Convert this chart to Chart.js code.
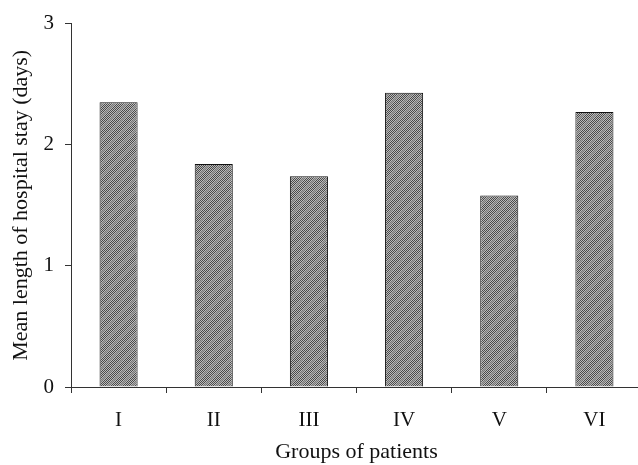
<!DOCTYPE html>
<html>
<head>
<meta charset="utf-8">
<script src="https://cdn.jsdelivr.net/npm/chart.js@4/dist/chart.umd.min.js"></script>
<style>
  html, body { margin: 0; padding: 0; background: #fff; overflow: hidden; }
  #wrap { width: 645px; height: 465px; }
</style>
</head>
<body>
<div id="wrap"><canvas id="c" width="645" height="465"></canvas></div>
<script>
const groups = ['I', 'II', 'III', 'IV', 'V', 'VI'];
const meanStay = [2.35, 1.84, 1.74, 2.43, 1.58, 2.27];
const yTicks = [0, 1, 2, 3];

// gray dotted fill with faint diagonal streaks, like the scanned print
function hatch() {
  const p = document.createElement('canvas');
  p.width = 12; p.height = 12;
  const g = p.getContext('2d');
  for (let y = 0; y < 12; y++) {
    for (let x = 0; x < 12; x++) {
      const d = (x + y) % 12;
      const stripe = d < 3;
      const dark = (x + y) % 2 === 0;
      if (stripe) g.fillStyle = dark ? '#767676' : '#a4a4a4';
      else g.fillStyle = dark ? '#4a4a4a' : '#bcbcbc';
      g.fillRect(x, y, 1, 1);
    }
  }
  return g.createPattern(p, 'repeat');
}

const serif = 'Liberation Serif, Times New Roman, serif';

new Chart(document.getElementById('c'), {
  type: 'bar',
  data: {
    labels: groups,
    datasets: [{
      data: meanStay,
      backgroundColor: hatch(),
      borderColor: '#111',
      borderWidth: 1,
      categoryPercentage: 1,
      barPercentage: 0.4
    }]
  },
  options: {
    responsive: false,
    animation: false,
    layout: { padding: { top: 19, right: 3, bottom: 0, left: 0 } },
    plugins: { legend: { display: false }, tooltip: { enabled: false } },
    scales: {
      x: {
        afterFit: s => { s.height = 78; },
        grid: { drawOnChartArea: false, tickLength: 6, color: '#333' },
        border: { color: '#333', width: 1 },
        ticks: { color: '#111', padding: 15, font: { family: serif, size: 21 } },
        title: { display: true, text: 'Groups of patients', color: '#111', padding: 0, font: { family: serif, size: 22 } }
      },
      y: {
        min: 0, max: 3,
        afterFit: s => { s.width = 71; },
        afterBuildTicks: s => { s.ticks = yTicks.map(v => ({ value: v })); },
        grid: { drawOnChartArea: false, tickLength: 6, color: '#333' },
        border: { color: '#333', width: 1 },
        ticks: { color: '#111', padding: 11, font: { family: serif, size: 21 } },
        title: { display: true, text: 'Mean length of hospital stay (days)', color: '#111', padding: { top: 8, bottom: 0 }, font: { family: serif, size: 22 } }
      }
    }
  }
});
</script>
</body>
</html>
